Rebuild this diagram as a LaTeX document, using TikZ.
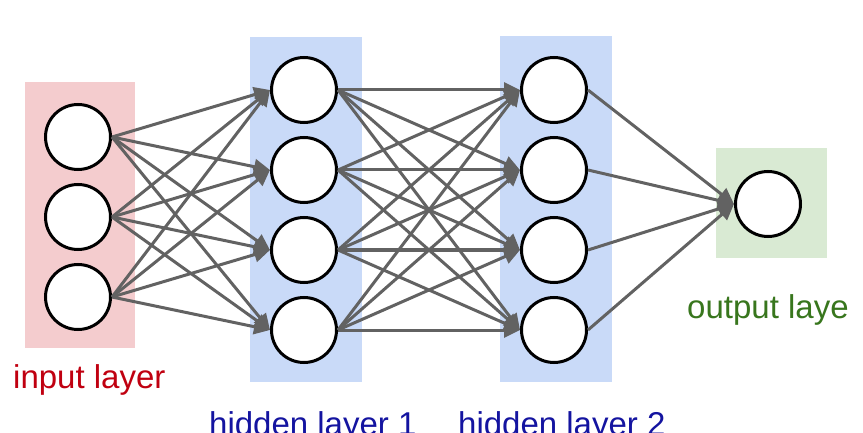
\documentclass[tikz,border=0pt]{standalone}
\usepackage{fontspec}
\setmainfont{Liberation Sans}
\usetikzlibrary{arrows.meta, positioning}
\definecolor{inputfill}{RGB}{244,204,206}
\definecolor{hiddenfill}{RGB}{201,218,248}
\definecolor{outputfill}{RGB}{217,234,211}
\definecolor{inputtext}{RGB}{192,0,16}
\definecolor{hiddentext}{RGB}{20,20,160}
\definecolor{outputtext}{RGB}{56,118,29}
\definecolor{edgegray}{RGB}{98,98,98}
\tikzset{
    layerbox/.style={
        rectangle, draw=none, inner sep=0pt
    },
    neuron/.style={
        circle, draw=black, line width=3pt, fill=white,
        minimum size=65pt, inner sep=0pt
    },
    synapse/.style={draw=edgegray, line width=3pt, -{Triangle[length=16pt,width=15pt]}},
    layerlabel/.style={font=\fontsize{33}{40}\selectfont, inner sep=0pt, anchor=base west}
}
\begin{document}
\begin{tikzpicture}[x=1pt, y=-1pt]

\useasboundingbox (0,0) rectangle (863,433);

% Layer backgrounds
\node[layerbox, fill=inputfill, minimum width=110pt, minimum height=266pt] (inbox) at (80,215) {};
\node[layerbox, fill=hiddenfill, minimum width=112pt, minimum height=345pt] (hAbox) at (306,209.5) {};
\node[layerbox, fill=hiddenfill, minimum width=112pt, minimum height=346pt] (hBbox) at (556,209) {};
\node[layerbox, fill=outputfill, minimum width=111pt, minimum height=110pt] (outbox) at (771.5,203) {};

% Neurons
\foreach \i/\y in {1/137, 2/217, 3/297}
    \node[neuron] (in\i) at (78,\y) {};
\foreach \i/\y in {1/90, 2/170, 3/250, 4/330} {
    \node[neuron] (hA\i) at (304,\y) {};
    \node[neuron] (hB\i) at (554,\y) {};
}
\node[neuron] (out) at (768,204) {};

% Connections
\foreach \i in {1,...,3}
    \foreach \j in {1,...,4}
        \draw[synapse] (in\i.east) -- (hA\j.west);
\foreach \i in {1,...,4}
    \foreach \j in {1,...,4}
        \draw[synapse] (hA\i.east) -- (hB\j.west);
\foreach \i in {1,...,4}
    \draw[synapse] (hB\i.east) -- (out.west);

% Labels
\node[layerlabel, text=inputtext] (inlabel) at (13,388) {input layer};
\node[layerlabel, text=hiddentext] (hAlabel) at (209,435) {hidden layer 1};
\node[layerlabel, text=hiddentext] (hBlabel) at (458,435) {hidden layer 2};
\node[layerlabel, text=outputtext] (outlabel) at (687,318) {output laye};

\end{tikzpicture}
\end{document}
